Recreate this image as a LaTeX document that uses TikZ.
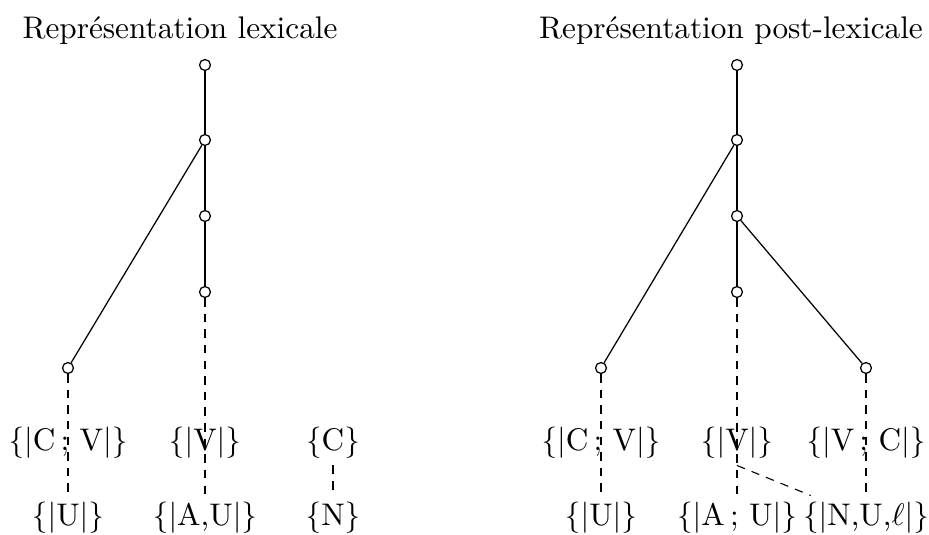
\documentclass[tikz,border=0pt]{standalone}
\usepackage{tikz}
\usetikzlibrary{positioning}

\begin{document}
\begin{tikzpicture}[
  x=0.32pt,y=-0.32pt,
  c/.style={circle,draw,fill=white,inner sep=0pt,minimum size=3.5pt},
  lb/.style={inner sep=2pt},
  d/.style={dash pattern=on 2.7pt off 2.3pt,line width=0.35pt}
]
\useasboundingbox (0,0) rectangle (929,535);
% titles
\node (t1) at (180,31) {Représentation lexicale};
\node (t2) at (731,31) {Représentation post-lexicale};

% lexical tree
\node[c] (a1) at (205,65) {};
\node[c] (a2) at (205,140) {};
\node[c] (a3) at (205,216) {};
\node[c] (a4) at (205,292) {};
\node[c] (a5) at (68,368) {};
\node[lb] (l1) at (68,443) {\{|C\,; V|\}};
\node[lb] (l2) at (205,443) {\{|V|\}};
\node[lb] (l3) at (333,443) {\{C\}};
\node[lb] (m1) at (68,518) {\{|U|\}};
\node[lb] (m2) at (205,518) {\{|A,U|\}};
\node[lb] (m3) at (333,518) {\{N\}};

\draw (a1) -- (a2);
\draw (a2) -- (a3);
\draw (a3) -- (a4);
\draw (a2) -- (a5);
\draw[d] (a5) -- (m1);
\draw[d] (a4) -- (m2);
\draw[d] (l3) -- (m3);

% post-lexical tree
\node[c] (b1) at (737,65) {};
\node[c] (b2) at (737,140) {};
\node[c] (b3) at (737,216) {};
\node[c] (b4) at (737,292) {};
\node[c] (b5) at (601,368) {};
\node[c] (b6) at (866,368) {};
\node[lb] (r1) at (601,443) {\{|C\,; V|\}};
\node[lb] (r2) at (737,443) {\{|V|\}};
\node[lb] (r3) at (866,443) {\{|V\,; C|\}};
\node[lb] (s1) at (601,518) {\{|U|\}};
\node[lb] (s2) at (737,518) {\{|A\,; U|\}};
\node[lb] (s3) at (866,518) {\{|N,U,$\ell$|\}};

\draw (b1) -- (b2);
\draw (b2) -- (b3);
\draw (b3) -- (b4);
\draw (b2) -- (b5);
\draw (b3) -- (b6);
\draw[d] (b5) -- (s1);
\draw[d] (b4) -- (s2);
\draw[d] (b6) -- (s3);
\draw[d] (r2.south) -- (s3);
\end{tikzpicture}
\end{document}
